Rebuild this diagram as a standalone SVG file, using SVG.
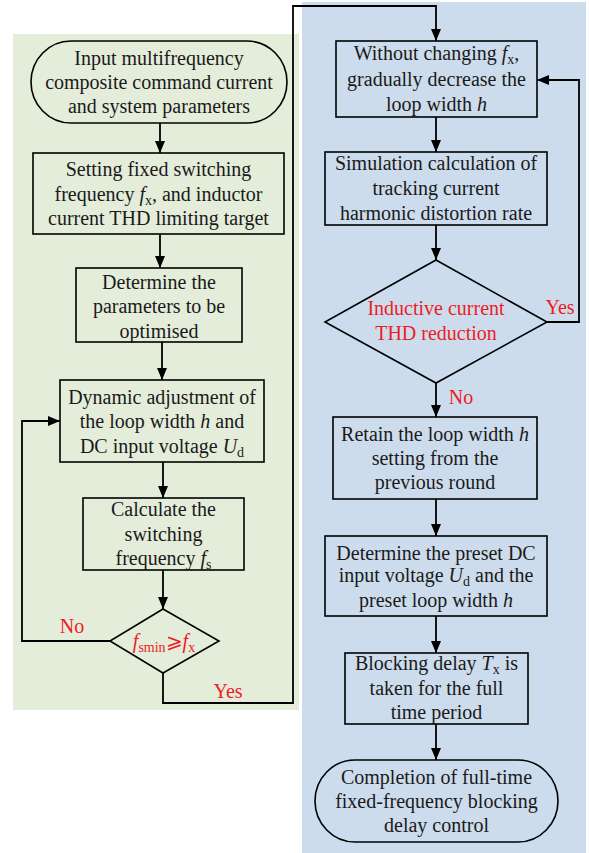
<svg xmlns="http://www.w3.org/2000/svg" width="589" height="853" viewBox="0 0 589 853">
<defs>
<marker id="ah" viewBox="0 0 12 10" refX="12" refY="5" markerWidth="12" markerHeight="10" markerUnits="userSpaceOnUse" orient="auto">
<path d="M0,0 L12,5 L0,10 z" fill="#000"/>
</marker>
<style>
.sh{fill:none;stroke:#000;stroke-width:1.6}
.t{font-family:"Liberation Serif","Times New Roman",serif;font-size:20px;fill:#1a1a1a;text-anchor:middle}
.r{fill:#ee1c24}
.i{font-style:italic}
.s{font-size:14px}
.c{fill:none;stroke:#000;stroke-width:1.8}
</style>
</defs>
<rect x="0" y="0" width="589" height="853" fill="#fff"/>
<rect id="panel-left" x="13" y="34" width="286" height="676" fill="#e4edda"/>
<rect id="panel-right" x="302" y="2" width="284" height="851" fill="#cddcec"/>

<g id="connectors">
<line class="c" x1="160" y1="123" x2="160" y2="153" marker-end="url(#ah)"/>
<line class="c" x1="160" y1="234" x2="160" y2="268" marker-end="url(#ah)"/>
<line class="c" x1="162" y1="342" x2="162" y2="380" marker-end="url(#ah)"/>
<line class="c" x1="163" y1="462" x2="163" y2="498" marker-end="url(#ah)"/>
<line class="c" x1="163" y1="570" x2="163" y2="609" marker-end="url(#ah)"/>
<polyline class="c" points="110,641 22,641 22,421 60,421" marker-end="url(#ah)"/>
<polyline class="c" points="163,673 163,703 293,703 293,6 436,6 436,41" marker-end="url(#ah)"/>
<line class="c" x1="436" y1="117" x2="436" y2="152" marker-end="url(#ah)"/>
<line class="c" x1="436" y1="225" x2="436" y2="260" marker-end="url(#ah)"/>
<polyline class="c" points="547,322 579,322 579,80 537,80" marker-end="url(#ah)"/>
<line class="c" x1="436" y1="383" x2="436" y2="417" marker-end="url(#ah)"/>
<line class="c" x1="436" y1="499" x2="436" y2="536" marker-end="url(#ah)"/>
<line class="c" x1="436" y1="616" x2="436" y2="653" marker-end="url(#ah)"/>
<line class="c" x1="436" y1="724" x2="436" y2="760" marker-end="url(#ah)"/>
<text class="t r" x="72" y="633">No</text>
<text class="t r" x="228" y="698">Yes</text>
<text class="t r" x="560" y="314">Yes</text>
<text class="t r" x="461" y="404">No</text>
</g>

<g id="start">
<rect class="sh" x="31" y="41" width="256" height="82" rx="40" ry="41"/>
<text class="t" x="159" y="65">Input multifrequency</text>
<text class="t" x="159" y="89">composite command current</text>
<text class="t" x="159" y="113">and system parameters</text>
</g>

<g id="set-frequency">
<rect class="sh" x="33" y="153" width="251" height="81"/>
<text class="t" x="158.5" y="176">Setting fixed switching</text>
<text class="t" x="158.5" y="201">frequency <tspan class="i">f</tspan><tspan class="s" dy="4">x</tspan><tspan dy="-4">, and inductor</tspan></text>
<text class="t" x="158.5" y="225">current THD limiting target</text>
</g>

<g id="determine-params">
<rect class="sh" x="76" y="268" width="166" height="74"/>
<text class="t" x="159" y="289">Determine the</text>
<text class="t" x="159" y="313">parameters to be</text>
<text class="t" x="159" y="338">optimised</text>
</g>

<g id="dynamic-adjust">
<rect class="sh" x="60" y="380" width="204" height="82"/>
<text class="t" x="162" y="404">Dynamic adjustment of</text>
<text class="t" x="162" y="428">the loop width <tspan class="i">h</tspan> and</text>
<text class="t" x="162" y="453">DC input voltage <tspan class="i">U</tspan><tspan class="s" dy="4">d</tspan></text>
</g>

<g id="calc-frequency">
<rect class="sh" x="83" y="498" width="161" height="72"/>
<text class="t" x="163.5" y="516">Calculate the</text>
<text class="t" x="163.5" y="541">switching</text>
<text class="t" x="163.5" y="565">frequency <tspan class="i">f</tspan><tspan class="s" dy="4">s</tspan></text>
</g>

<g id="decision-fsmin">
<polygon class="sh" points="163,609 219,641 163,673 110,641"/>
<text class="t r" x="164" y="648"><tspan class="i">f</tspan><tspan class="s" dy="4">smin</tspan><tspan dy="-4">⩾</tspan><tspan class="i">f</tspan><tspan class="s" dy="4">x</tspan></text>
</g>

<g id="decrease-loop">
<rect class="sh" x="336" y="41" width="201" height="76"/>
<text class="t" x="436.5" y="60">Without changing <tspan class="i">f</tspan><tspan class="s" dy="4">x</tspan><tspan dy="-4">,</tspan></text>
<text class="t" x="436.5" y="86">gradually decrease the</text>
<text class="t" x="436.5" y="111">loop width <tspan class="i">h</tspan></text>
</g>

<g id="simulation">
<rect class="sh" x="325" y="152" width="222" height="73"/>
<text class="t" x="436" y="170">Simulation calculation of</text>
<text class="t" x="436" y="195">tracking current</text>
<text class="t" x="436" y="220">harmonic distortion rate</text>
</g>

<g id="decision-thd">
<polygon class="sh" points="436,260 547,322 436,383 325,322"/>
<text class="t r" x="436" y="315">Inductive current</text>
<text class="t r" x="436" y="340">THD reduction</text>
</g>

<g id="retain-loop">
<rect class="sh" x="333" y="417" width="204" height="82"/>
<text class="t" x="435" y="441">Retain the loop width <tspan class="i">h</tspan></text>
<text class="t" x="435" y="465">setting from the</text>
<text class="t" x="435" y="489">previous round</text>
</g>

<g id="preset">
<rect class="sh" x="325" y="536" width="222" height="80"/>
<text class="t" x="436" y="560">Determine the preset DC</text>
<text class="t" x="436" y="582">input voltage <tspan class="i">U</tspan><tspan class="s" dy="4">d</tspan><tspan dy="-4"> and the</tspan></text>
<text class="t" x="436" y="607">preset loop width <tspan class="i">h</tspan></text>
</g>

<g id="blocking-delay">
<rect class="sh" x="345" y="653" width="183" height="71"/>
<text class="t" x="436.5" y="670">Blocking delay <tspan class="i">T</tspan><tspan class="s" dy="4">x</tspan><tspan dy="-4"> is</tspan></text>
<text class="t" x="436.5" y="695">taken for the full</text>
<text class="t" x="436.5" y="719">time period</text>
</g>

<g id="end">
<rect class="sh" x="315" y="760" width="243" height="82" rx="40" ry="41"/>
<text class="t" x="436.5" y="784">Completion of full-time</text>
<text class="t" x="436.5" y="808">fixed-frequency blocking</text>
<text class="t" x="436.5" y="832">delay control</text>
</g>
</svg>
